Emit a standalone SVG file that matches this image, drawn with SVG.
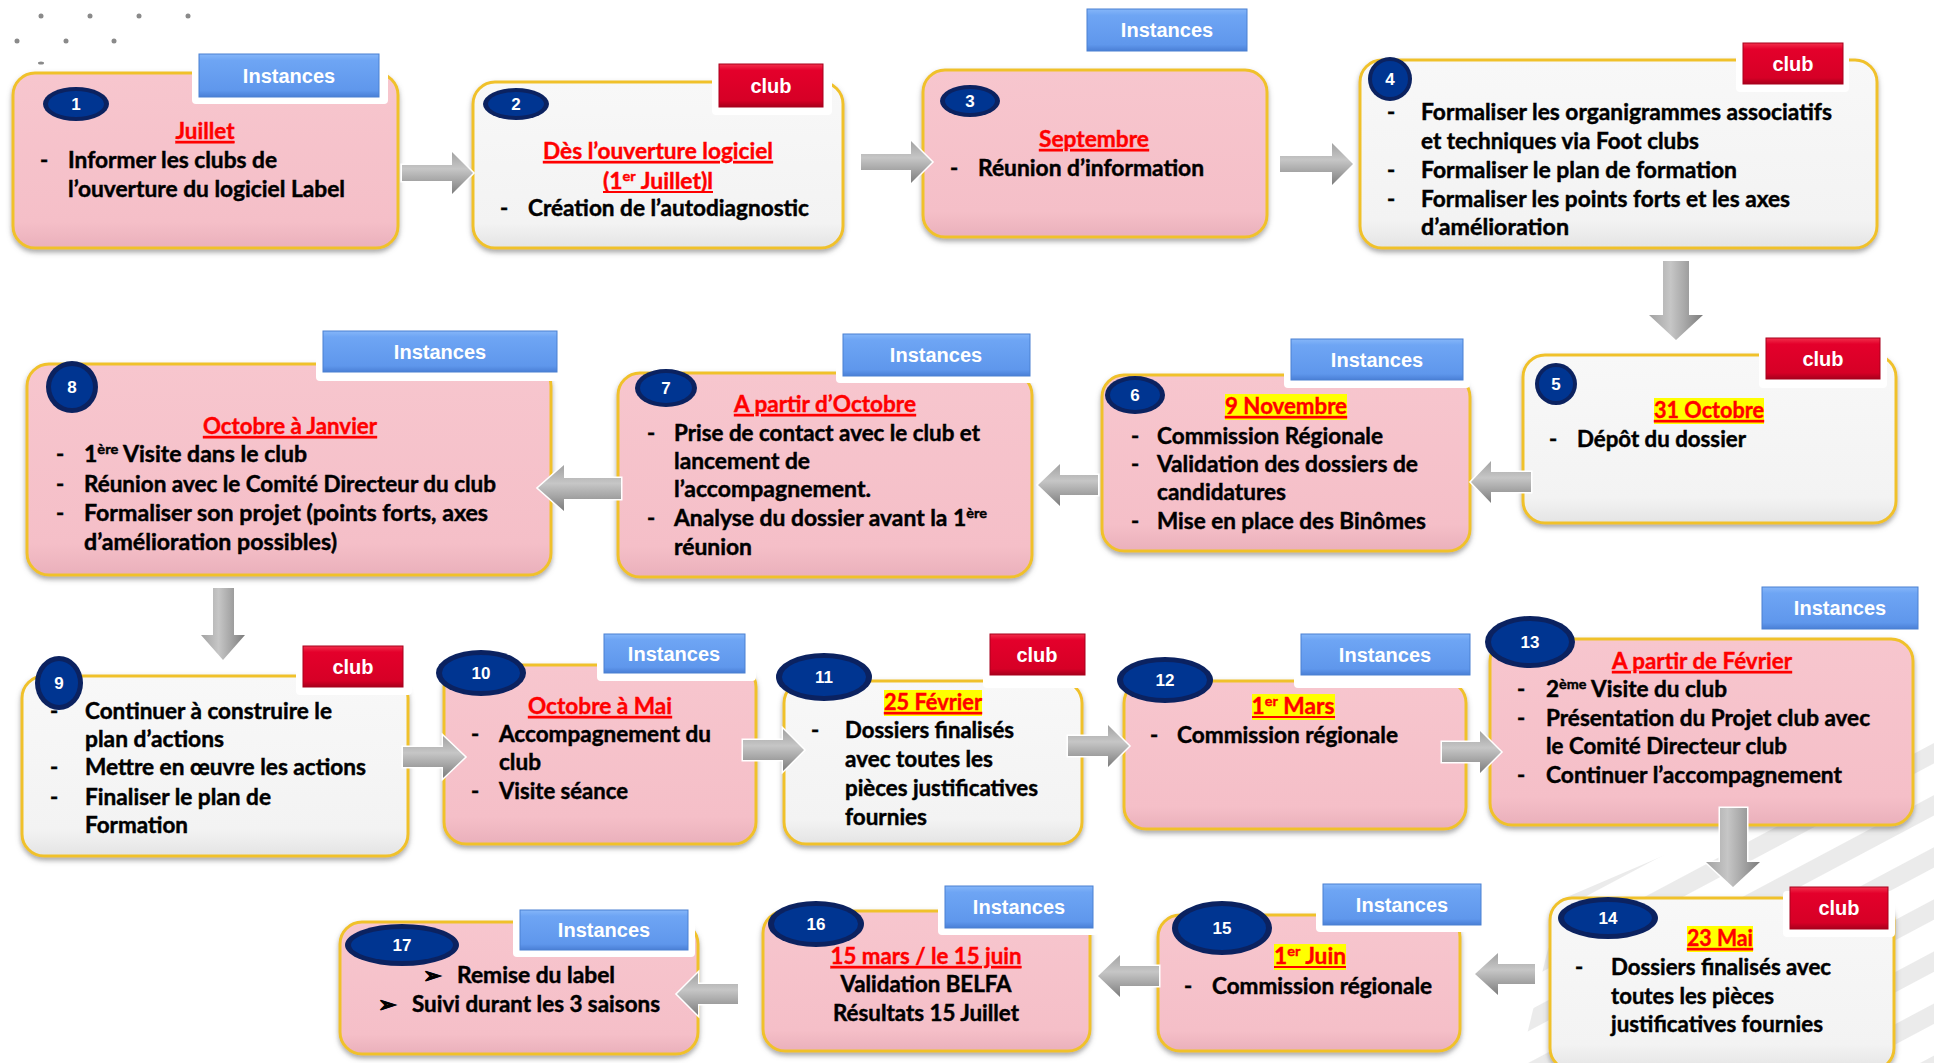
<svg xmlns="http://www.w3.org/2000/svg" width="1934" height="1063" viewBox="0 0 1934 1063">
<defs>
<style>
.pink{fill:url(#gPink);stroke:#f0c12c;stroke-width:3;filter:url(#sh)}
.white{fill:url(#gWhite);stroke:#f0c12c;stroke-width:3;filter:url(#sh)}
.cut{fill:#ffffff}
.inst{fill:url(#gBlue);stroke:#4a80d2;stroke-width:1}
.club{fill:url(#gRed);stroke:#a8001c;stroke-width:1}
.tabt{font-family:"Liberation Sans",Arial,sans-serif;font-weight:bold;font-size:20px;fill:#fff;text-anchor:middle}
.bo{fill:#0b2260}
.bi{fill:#003591}
.num{font-family:"Liberation Sans",Arial,sans-serif;font-weight:bold;font-size:17px;fill:#fff;text-anchor:middle}
.t{font-family:Lato,"Open Sans",sans-serif;font-weight:bold;font-size:22px;fill:#000;stroke:#000;stroke-width:0.45}
.c{text-anchor:middle}
.d{font-family:Lato,"Open Sans",sans-serif;font-weight:bold;font-size:22px;fill:#ff0000;stroke:#ff0000;stroke-width:0.4;text-anchor:middle;text-decoration:underline}
.dn{font-family:Lato,"Open Sans",sans-serif;font-weight:bold;font-size:22px;fill:#ff0000;stroke:#ff0000;stroke-width:0.4;text-anchor:middle}
.ul{stroke:#ff0000;stroke-width:2}
.hl{fill:#ffff00}
.ah{fill:url(#gArrH);stroke:#fff;stroke-width:3;paint-order:stroke}
.av{fill:url(#gArrV);stroke:#fff;stroke-width:3;paint-order:stroke}
.dot{fill:#8a8a8a}
</style>
<linearGradient id="gPink" x1="0" y1="0" x2="0" y2="1">
<stop offset="0" stop-color="#f7c6ce"/><stop offset="0.85" stop-color="#f5bfc8"/><stop offset="1" stop-color="#eab0bb"/>
</linearGradient>
<linearGradient id="gWhite" x1="0" y1="0" x2="0" y2="1">
<stop offset="0" stop-color="#f8f8f8"/><stop offset="0.85" stop-color="#f3f3f3"/><stop offset="1" stop-color="#e4e4e4"/>
</linearGradient>
<linearGradient id="gBlue" x1="0" y1="0" x2="0" y2="1">
<stop offset="0" stop-color="#85b6f9"/><stop offset="0.15" stop-color="#6ea5f4"/><stop offset="0.85" stop-color="#5f97ec"/><stop offset="1" stop-color="#4a7fd6"/>
</linearGradient>
<linearGradient id="gRed" x1="0" y1="0" x2="0" y2="1">
<stop offset="0" stop-color="#f2304c"/><stop offset="0.15" stop-color="#e4002b"/><stop offset="0.85" stop-color="#d60026"/><stop offset="1" stop-color="#a8001c"/>
</linearGradient>
<linearGradient id="gArrH" x1="0" y1="0" x2="0" y2="1">
<stop offset="0" stop-color="#a2a2a2"/><stop offset="0.4" stop-color="#c6c6c6"/><stop offset="0.65" stop-color="#a9a9a9"/><stop offset="1" stop-color="#7c7c7c"/>
</linearGradient>
<linearGradient id="gArrV" x1="0" y1="0" x2="1" y2="0">
<stop offset="0" stop-color="#a2a2a2"/><stop offset="0.4" stop-color="#c6c6c6"/><stop offset="0.65" stop-color="#a9a9a9"/><stop offset="1" stop-color="#7c7c7c"/>
</linearGradient>
<filter id="sh" x="-5%" y="-5%" width="110%" height="115%">
<feDropShadow dx="0" dy="3" stdDeviation="2.5" flood-color="#707070" flood-opacity="0.6"/>
</filter>
<pattern id="stripes" width="46" height="46" patternUnits="userSpaceOnUse" patternTransform="rotate(-28)">
<rect x="0" y="0" width="46" height="18" fill="#ebebeb"/>
</pattern>
<clipPath id="stripeClip">
<polygon points="1520,1063 1560,900 1700,840 1934,740 1934,1063"/>
</clipPath>
</defs>

<rect x="0" y="0" width="1934" height="1063" fill="#ffffff"/>
<g id="background">
<rect x="1500" y="720" width="434" height="343" fill="url(#stripes)" clip-path="url(#stripeClip)"/>
<circle class="dot" cx="41" cy="16" r="2.5"/><circle class="dot" cx="90" cy="16" r="2.5"/>
<circle class="dot" cx="139" cy="16" r="2.5"/><circle class="dot" cx="188" cy="16" r="2.5"/>
<circle class="dot" cx="17" cy="41" r="2.5"/><circle class="dot" cx="66" cy="41" r="2.5"/>
<circle class="dot" cx="114" cy="41" r="2.5"/>
<ellipse class="dot" cx="41" cy="63" rx="3" ry="1.5"/>
</g>

<g id="n1">
<rect class="pink" x="13" y="73" width="385" height="175" rx="22"/>
<rect class="cut" x="192" y="58" width="196" height="46" rx="4"/>
<rect class="inst" x="199" y="54" width="180" height="43"/>
<text class="tabt" x="289" y="83">Instances</text>
<ellipse class="bo" cx="76" cy="104" rx="33" ry="17"/><ellipse class="bi" cx="76" cy="104" rx="28" ry="13"/>
<text class="num" x="76" y="110">1</text>
<text class="d" x="205" y="139" textLength="59" lengthAdjust="spacingAndGlyphs">Juillet</text>
<text class="t" x="40" y="168">-</text>
<text class="t" x="68" y="168" textLength="209" lengthAdjust="spacingAndGlyphs">Informer les clubs de</text>
<text class="t" x="68" y="197" textLength="277" lengthAdjust="spacingAndGlyphs">l’ouverture du logiciel Label</text>
</g>

<g id="n2">
<rect class="white" x="473" y="82" width="370" height="166" rx="22"/>
<rect class="cut" x="712" y="68" width="120" height="47" rx="4"/>
<rect class="club" x="719" y="64" width="104" height="43"/>
<text class="tabt" x="771" y="93">club</text>
<ellipse class="bo" cx="516" cy="104" rx="33" ry="16"/><ellipse class="bi" cx="516" cy="104" rx="28" ry="12"/>
<text class="num" x="516" y="110">2</text>
<text class="d" x="658" y="159" textLength="230" lengthAdjust="spacingAndGlyphs">Dès l’ouverture logiciel</text>
<text class="dn" x="658" y="189" textLength="110" lengthAdjust="spacingAndGlyphs">(1<tspan font-size="14" dy="-8">er</tspan><tspan dy="8"> Juillet)l</tspan></text>
<line class="ul" x1="603" y1="192" x2="713" y2="192"/>
<text class="t" x="500" y="216">-</text>
<text class="t" x="528" y="216" textLength="281" lengthAdjust="spacingAndGlyphs">Création de l’autodiagnostic</text>
</g>

<g id="n3">
<rect class="pink" x="923" y="70" width="344" height="167" rx="22"/>
<rect class="inst" x="1087" y="9" width="160" height="42"/>
<text class="tabt" x="1167" y="37">Instances</text>
<ellipse class="bo" cx="970" cy="101" rx="30" ry="16"/><ellipse class="bi" cx="970" cy="101" rx="25" ry="12"/>
<text class="num" x="970" y="107">3</text>
<text class="d" x="1094" y="147" textLength="110" lengthAdjust="spacingAndGlyphs">Septembre</text>
<text class="t" x="950" y="176">-</text>
<text class="t" x="978" y="176" textLength="226" lengthAdjust="spacingAndGlyphs">Réunion d’information</text>
</g>

<g id="n4">
<rect class="white" x="1360" y="60" width="517" height="188" rx="22"/>
<rect class="cut" x="1736" y="48" width="113" height="44" rx="4"/>
<rect class="club" x="1743" y="43" width="100" height="41"/>
<text class="tabt" x="1793" y="71">club</text>
<circle class="bo" cx="1390" cy="79" r="22"/><circle class="bi" cx="1390" cy="79" r="18"/>
<text class="num" x="1390" y="85">4</text>
<text class="t" x="1387" y="120">-</text>
<text class="t" x="1421" y="120" textLength="411" lengthAdjust="spacingAndGlyphs">Formaliser les organigrammes associatifs</text>
<text class="t" x="1421" y="149" textLength="278" lengthAdjust="spacingAndGlyphs">et techniques via Foot clubs</text>
<text class="t" x="1387" y="178">-</text>
<text class="t" x="1421" y="178" textLength="316" lengthAdjust="spacingAndGlyphs">Formaliser le plan de formation</text>
<text class="t" x="1387" y="207">-</text>
<text class="t" x="1421" y="207" textLength="369" lengthAdjust="spacingAndGlyphs">Formaliser les points forts et les axes</text>
<text class="t" x="1421" y="235" textLength="148" lengthAdjust="spacingAndGlyphs">d’amélioration</text>
</g>

<g id="n5">
<rect class="white" x="1523" y="355" width="373" height="168" rx="22"/>
<rect class="cut" x="1759" y="343" width="128" height="45" rx="4"/>
<rect class="club" x="1766" y="338" width="114" height="41"/>
<text class="tabt" x="1823" y="366">club</text>
<circle class="bo" cx="1556" cy="384" r="21"/><circle class="bi" cx="1556" cy="384" r="17"/>
<text class="num" x="1556" y="390">5</text>
<rect class="hl" x="1654" y="398" width="110" height="26"/>
<text class="d" x="1709" y="418" textLength="110" lengthAdjust="spacingAndGlyphs">31 Octobre</text>
<text class="t" x="1549" y="447">-</text>
<text class="t" x="1577" y="447" textLength="169" lengthAdjust="spacingAndGlyphs">Dépôt du dossier</text>
</g>

<g id="n6">
<rect class="pink" x="1102" y="375" width="368" height="176" rx="22"/>
<rect class="cut" x="1284" y="343" width="186" height="45" rx="4"/>
<rect class="inst" x="1291" y="339" width="172" height="41"/>
<text class="tabt" x="1377" y="367">Instances</text>
<ellipse class="bo" cx="1135" cy="395" rx="30" ry="19"/><ellipse class="bi" cx="1135" cy="395" rx="25" ry="15"/>
<text class="num" x="1135" y="401">6</text>
<rect class="hl" x="1225" y="394" width="122" height="26"/>
<text class="d" x="1286" y="414" textLength="122" lengthAdjust="spacingAndGlyphs">9 Novembre</text>
<text class="t" x="1131" y="444">-</text>
<text class="t" x="1157" y="444" textLength="226" lengthAdjust="spacingAndGlyphs">Commission Régionale</text>
<text class="t" x="1131" y="472">-</text>
<text class="t" x="1157" y="472" textLength="261" lengthAdjust="spacingAndGlyphs">Validation des dossiers de</text>
<text class="t" x="1157" y="500" textLength="129" lengthAdjust="spacingAndGlyphs">candidatures</text>
<text class="t" x="1131" y="529">-</text>
<text class="t" x="1157" y="529" textLength="269" lengthAdjust="spacingAndGlyphs">Mise en place des Binômes</text>
</g>

<g id="n7">
<rect class="pink" x="618" y="373" width="414" height="204" rx="22"/>
<rect class="cut" x="836" y="338" width="200" height="45" rx="4"/>
<rect class="inst" x="843" y="334" width="187" height="42"/>
<text class="tabt" x="936" y="362">Instances</text>
<ellipse class="bo" cx="666" cy="388" rx="31" ry="19"/><ellipse class="bi" cx="666" cy="388" rx="26" ry="15"/>
<text class="num" x="666" y="394">7</text>
<text class="d" x="825" y="412" textLength="182" lengthAdjust="spacingAndGlyphs">A partir d’Octobre</text>
<text class="t" x="647" y="441">-</text>
<text class="t" x="674" y="441" textLength="306" lengthAdjust="spacingAndGlyphs">Prise de contact avec le club et</text>
<text class="t" x="674" y="469" textLength="136" lengthAdjust="spacingAndGlyphs">lancement de</text>
<text class="t" x="674" y="497" textLength="197" lengthAdjust="spacingAndGlyphs">l’accompagnement.</text>
<text class="t" x="647" y="526">-</text>
<text class="t" x="674" y="526" textLength="313" lengthAdjust="spacingAndGlyphs">Analyse du dossier avant la 1<tspan font-size="14" dy="-8">ère</tspan></text>
<text class="t" x="674" y="555" textLength="78" lengthAdjust="spacingAndGlyphs">réunion</text>
</g>

<g id="n8">
<rect class="pink" x="27" y="364" width="524" height="211" rx="22"/>
<rect class="cut" x="316" y="336" width="248" height="45" rx="4"/>
<rect class="inst" x="323" y="331" width="234" height="41"/>
<text class="tabt" x="440" y="359">Instances</text>
<circle class="bo" cx="72" cy="387" r="26"/><circle class="bi" cx="72" cy="387" r="21"/>
<text class="num" x="72" y="393">8</text>
<text class="d" x="290" y="434" textLength="174" lengthAdjust="spacingAndGlyphs">Octobre à Janvier</text>
<text class="t" x="56" y="462">-</text>
<text class="t" x="84" y="462" textLength="223" lengthAdjust="spacingAndGlyphs">1<tspan font-size="14" dy="-8">ère</tspan><tspan dy="8">  Visite dans le club</tspan></text>
<text class="t" x="56" y="492">-</text>
<text class="t" x="84" y="492" textLength="412" lengthAdjust="spacingAndGlyphs">Réunion avec le Comité Directeur du club</text>
<text class="t" x="56" y="521">-</text>
<text class="t" x="84" y="521" textLength="404" lengthAdjust="spacingAndGlyphs">Formaliser son projet  (points forts, axes</text>
<text class="t" x="84" y="550" textLength="253" lengthAdjust="spacingAndGlyphs">d’amélioration possibles)</text>
</g>

<g id="n9">
<rect class="white" x="22" y="676" width="386" height="180" rx="22"/>
<rect class="cut" x="296" y="652" width="116" height="43" rx="4"/>
<rect class="club" x="303" y="646" width="100" height="41"/>
<text class="tabt" x="353" y="674">club</text>
<ellipse class="bo" cx="59" cy="683" rx="24" ry="27"/><ellipse class="bi" cx="59" cy="683" rx="19" ry="22"/>
<text class="num" x="59" y="689">9</text>
<text class="t" x="50" y="719">-</text>
<text class="t" x="85" y="719" textLength="247" lengthAdjust="spacingAndGlyphs">Continuer à construire le</text>
<text class="t" x="85" y="747" textLength="139" lengthAdjust="spacingAndGlyphs">plan d’actions</text>
<text class="t" x="50" y="775">-</text>
<text class="t" x="85" y="775" textLength="281" lengthAdjust="spacingAndGlyphs">Mettre en œuvre les actions</text>
<text class="t" x="50" y="805">-</text>
<text class="t" x="85" y="805" textLength="186" lengthAdjust="spacingAndGlyphs">Finaliser le plan de</text>
<text class="t" x="85" y="833" textLength="103" lengthAdjust="spacingAndGlyphs">Formation</text>
</g>

<g id="n10">
<rect class="pink" x="444" y="665" width="312" height="179" rx="22"/>
<rect class="cut" x="597" y="638" width="159" height="43" rx="4"/>
<rect class="inst" x="604" y="634" width="141" height="39"/>
<text class="tabt" x="674" y="661">Instances</text>
<ellipse class="bo" cx="481" cy="673" rx="45" ry="23"/><ellipse class="bi" cx="481" cy="673" rx="39" ry="18"/>
<text class="num" x="481" y="679">10</text>
<text class="d" x="600" y="714" textLength="144" lengthAdjust="spacingAndGlyphs">Octobre à Mai</text>
<text class="t" x="471" y="742">-</text>
<text class="t" x="499" y="742" textLength="212" lengthAdjust="spacingAndGlyphs">Accompagnement du</text>
<text class="t" x="499" y="770" textLength="42" lengthAdjust="spacingAndGlyphs">club</text>
<text class="t" x="471" y="799">-</text>
<text class="t" x="499" y="799" textLength="129" lengthAdjust="spacingAndGlyphs">Visite séance</text>
</g>

<g id="n11">
<rect class="white" x="784" y="681" width="298" height="163" rx="22"/>
<rect class="cut" x="983" y="638" width="106" height="50" rx="4"/>
<rect class="club" x="990" y="634" width="95" height="41"/>
<text class="tabt" x="1037" y="662">club</text>
<ellipse class="bo" cx="824" cy="677" rx="48" ry="24"/><ellipse class="bi" cx="824" cy="677" rx="42" ry="19"/>
<text class="num" x="824" y="683">11</text>
<rect class="hl" x="884" y="690" width="98" height="26"/>
<text class="d" x="933" y="710" textLength="98" lengthAdjust="spacingAndGlyphs">25 Février</text>
<text class="t" x="811" y="738">-</text>
<text class="t" x="845" y="738" textLength="169" lengthAdjust="spacingAndGlyphs">Dossiers finalisés</text>
<text class="t" x="845" y="767" textLength="148" lengthAdjust="spacingAndGlyphs">avec toutes les</text>
<text class="t" x="845" y="796" textLength="193" lengthAdjust="spacingAndGlyphs">pièces justificatives</text>
<text class="t" x="845" y="825" textLength="82" lengthAdjust="spacingAndGlyphs">fournies</text>
</g>

<g id="n12">
<rect class="pink" x="1124" y="681" width="342" height="148" rx="22"/>
<rect class="cut" x="1294" y="638" width="178" height="50" rx="4"/>
<rect class="inst" x="1301" y="634" width="169" height="41"/>
<text class="tabt" x="1385" y="662">Instances</text>
<ellipse class="bo" cx="1165" cy="680" rx="48" ry="23"/><ellipse class="bi" cx="1165" cy="680" rx="42" ry="18"/>
<text class="num" x="1165" y="686">12</text>
<rect class="hl" x="1252" y="694" width="83" height="26"/>
<text class="dn" x="1293" y="714" textLength="83" lengthAdjust="spacingAndGlyphs">1<tspan font-size="14" dy="-8">er</tspan><tspan dy="8"> Mars</tspan></text>
<line class="ul" x1="1252" y1="717" x2="1335" y2="717"/>
<text class="t" x="1150" y="743">-</text>
<text class="t" x="1177" y="743" textLength="221" lengthAdjust="spacingAndGlyphs">Commission régionale</text>
</g>

<g id="n13">
<rect class="pink" x="1490" y="639" width="423" height="186" rx="22"/>
<rect class="inst" x="1762" y="587" width="156" height="42"/>
<text class="tabt" x="1840" y="615">Instances</text>
<ellipse class="bo" cx="1530" cy="642" rx="45" ry="26"/><ellipse class="bi" cx="1530" cy="642" rx="39" ry="21"/>
<text class="num" x="1530" y="648">13</text>
<text class="d" x="1702" y="669" textLength="180" lengthAdjust="spacingAndGlyphs">A partir de Février</text>
<text class="t" x="1517" y="697">-</text>
<text class="t" x="1546" y="697" textLength="181" lengthAdjust="spacingAndGlyphs">2<tspan font-size="14" dy="-8">ème</tspan><tspan dy="8"> Visite du club</tspan></text>
<text class="t" x="1517" y="726">-</text>
<text class="t" x="1546" y="726" textLength="324" lengthAdjust="spacingAndGlyphs">Présentation du Projet club avec</text>
<text class="t" x="1546" y="754" textLength="241" lengthAdjust="spacingAndGlyphs">le Comité Directeur club</text>
<text class="t" x="1517" y="783">-</text>
<text class="t" x="1546" y="783" textLength="296" lengthAdjust="spacingAndGlyphs">Continuer l’accompagnement</text>
</g>

<g id="n14">
<rect class="white" x="1550" y="898" width="344" height="172" rx="22"/>
<rect class="cut" x="1783" y="891" width="112" height="46" rx="4"/>
<rect class="club" x="1790" y="887" width="98" height="42"/>
<text class="tabt" x="1839" y="915">club</text>
<ellipse class="bo" cx="1608" cy="918" rx="50" ry="21"/><ellipse class="bi" cx="1608" cy="918" rx="44" ry="16"/>
<text class="num" x="1608" y="924">14</text>
<rect class="hl" x="1687" y="926" width="66" height="26"/>
<text class="d" x="1720" y="946" textLength="66" lengthAdjust="spacingAndGlyphs">23 Mai</text>
<text class="t" x="1575" y="975">-</text>
<text class="t" x="1611" y="975" textLength="220" lengthAdjust="spacingAndGlyphs">Dossiers finalisés avec</text>
<text class="t" x="1611" y="1004" textLength="163" lengthAdjust="spacingAndGlyphs">toutes les pièces</text>
<text class="t" x="1611" y="1032" textLength="212" lengthAdjust="spacingAndGlyphs">justificatives fournies</text>
</g>

<g id="n15">
<rect class="pink" x="1158" y="915" width="302" height="136" rx="22"/>
<rect class="cut" x="1316" y="888" width="172" height="44" rx="4"/>
<rect class="inst" x="1323" y="884" width="158" height="41"/>
<text class="tabt" x="1402" y="912">Instances</text>
<ellipse class="bo" cx="1222" cy="928" rx="50" ry="27"/><ellipse class="bi" cx="1222" cy="928" rx="44" ry="22"/>
<text class="num" x="1222" y="934">15</text>
<rect class="hl" x="1274" y="944" width="72" height="26"/>
<text class="dn" x="1310" y="964" textLength="72" lengthAdjust="spacingAndGlyphs">1<tspan font-size="14" dy="-8">er</tspan><tspan dy="8"> Juin</tspan></text>
<line class="ul" x1="1274" y1="967" x2="1346" y2="967"/>
<text class="t" x="1184" y="994">-</text>
<text class="t" x="1212" y="994" textLength="220" lengthAdjust="spacingAndGlyphs">Commission régionale</text>
</g>

<g id="n16">
<rect class="pink" x="763" y="911" width="327" height="140" rx="22"/>
<rect class="cut" x="938" y="890" width="160" height="45" rx="4"/>
<rect class="inst" x="945" y="886" width="148" height="42"/>
<text class="tabt" x="1019" y="914">Instances</text>
<ellipse class="bo" cx="816" cy="924" rx="48" ry="23"/><ellipse class="bi" cx="816" cy="924" rx="42" ry="18"/>
<text class="num" x="816" y="930">16</text>
<text class="d" x="926" y="964" textLength="191" lengthAdjust="spacingAndGlyphs">15 mars / le 15 juin</text>
<text class="t c" x="926" y="992" textLength="171" lengthAdjust="spacingAndGlyphs">Validation BELFA</text>
<text class="t c" x="926" y="1021" textLength="186" lengthAdjust="spacingAndGlyphs">Résultats 15 Juillet</text>
</g>

<g id="n17">
<rect class="pink" x="340" y="922" width="358" height="132" rx="22"/>
<rect class="cut" x="513" y="913" width="182" height="44" rx="4"/>
<rect class="inst" x="520" y="910" width="168" height="40"/>
<text class="tabt" x="604" y="937">Instances</text>
<ellipse class="bo" cx="402" cy="945" rx="57" ry="21"/><ellipse class="bi" cx="402" cy="945" rx="51" ry="16"/>
<text class="num" x="402" y="951">17</text>
<text class="t" x="423" y="983" font-family="DejaVu Sans, sans-serif" font-size="18">➢</text>
<text class="t" x="457" y="983" textLength="158" lengthAdjust="spacingAndGlyphs">Remise du label</text>
<text class="t" x="378" y="1012" font-family="DejaVu Sans, sans-serif" font-size="18">➢</text>
<text class="t" x="412" y="1012" textLength="248" lengthAdjust="spacingAndGlyphs">Suivi durant les 3 saisons</text>
</g>

<g id="connectors">
<path class="ah" d="M402,165 L452,165 L452,152 L473,173 L452,194 L452,181 L402,181 Z"/>
<path class="ah" d="M861,154 L911,154 L911,141 L932,162 L911,183 L911,170 L861,170 Z"/>
<path class="ah" d="M1280,156 L1332,156 L1332,143 L1353,164 L1332,185 L1332,172 L1280,172 Z"/>
<path class="av" d="M1663,261 L1689,261 L1689,315 L1703,315 L1676,340 L1649,315 L1663,315 Z"/>
<path class="ah" d="M1531,472 L1491,472 L1491,461 L1471,482 L1491,503 L1491,492 L1531,492 Z"/>
<path class="ah" d="M1098,475 L1060,475 L1060,464 L1038,485 L1060,506 L1060,495 L1098,495 Z"/>
<path class="ah" d="M621,478 L564,478 L564,465 L538,488 L564,511 L564,499 L621,499 Z"/>
<path class="av" d="M213,588 L234,588 L234,635 L245,635 L223,660 L201,635 L213,635 Z"/>
<path class="ah" d="M403,747 L443,747 L443,736 L465,757 L443,778 L443,767 L403,767 Z"/>
<path class="ah" d="M743,740 L783,740 L783,729 L804,750 L783,771 L783,760 L743,760 Z"/>
<path class="ah" d="M1068,736 L1108,736 L1108,725 L1129,746 L1108,767 L1108,756 L1068,756 Z"/>
<path class="ah" d="M1442,742 L1480,742 L1480,731 L1501,752 L1480,773 L1480,762 L1442,762 Z"/>
<path class="av" d="M1720,808 L1747,808 L1747,862 L1760,862 L1733,887 L1706,862 L1720,862 Z"/>
<path class="ah" d="M1535,964 L1498,964 L1498,953 L1475,974 L1498,995 L1498,984 L1535,984 Z"/>
<path class="ah" d="M1159,966 L1120,966 L1120,955 L1098,976 L1120,997 L1120,986 L1159,986 Z"/>
<path class="ah" d="M738,984 L698,984 L698,973 L677,994 L698,1015 L698,1004 L738,1004 Z"/>
</g>
</svg>
